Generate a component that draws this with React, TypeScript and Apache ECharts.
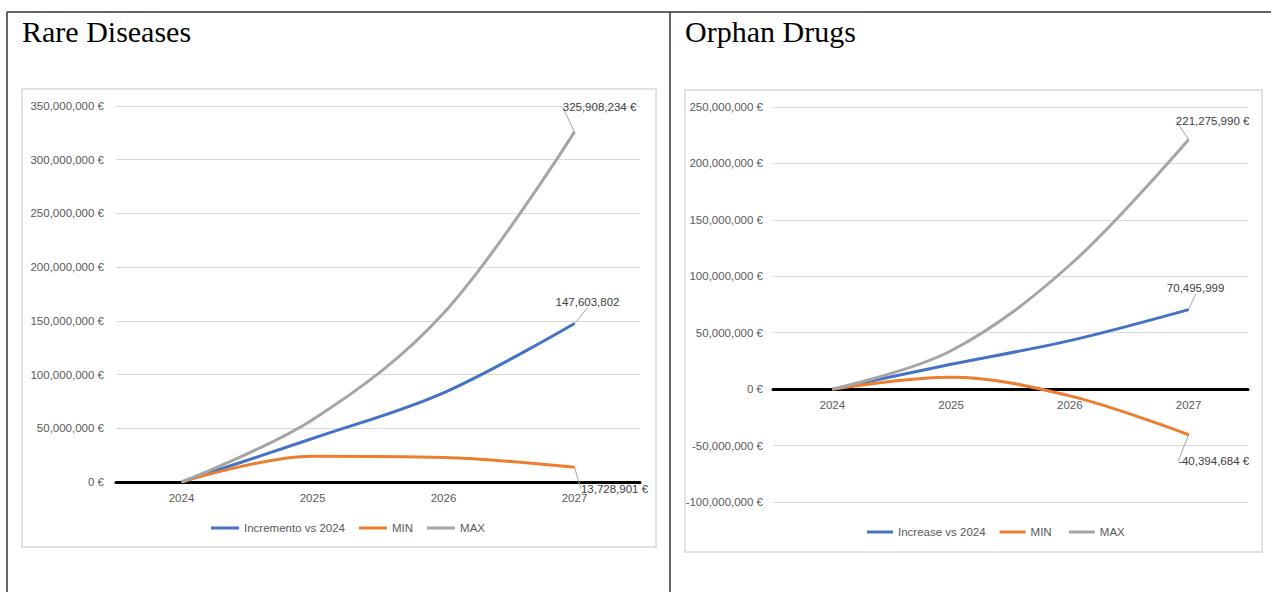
import React, { useEffect, useRef } from "react";
import * as echarts from "echarts";

const years = ["2024", "2025", "2026", "2027"];

// Rare Diseases
const rdIncrement = [0, 40500000, 83000000, 147603802];
const rdMin = [0, 24000000, 22800000, 13728901];
const rdMax = [0, 58000000, 157000000, 325908234];

// Orphan Drugs
const odIncrease = [0, 22000000, 43000000, 70495999];
const odMin = [0, 10500000, -6000000, -40394684];
const odMax = [0, 34000000, 110000000, 221275990];

const BLUE = "#4472C4";
const ORANGE = "#ED7D31";
const GRAY = "#A5A5A5";
const FONT = "Liberation Sans";

const fmtEuro = (v: number) => v.toLocaleString("en-US") + " €";
const fmtNum = (v: number) => v.toLocaleString("en-US");

function lastLabeled(values: number[], withEuro: boolean) {
  return values.map((v, i) =>
    i === values.length - 1
      ? {
          value: v,
          label: {
            show: true,
            position: "top",
            distance: 5,
            color: "#404040",
            fontSize: 11.5,
            fontFamily: FONT,
            formatter: (p: any) => (withEuro ? fmtEuro(p.value) : fmtNum(p.value)),
          },
        }
      : v
  );
}

function lineSeries(
  name: string,
  values: number[],
  color: string,
  gridIndex: number,
  withEuro: boolean,
  dx: number,
  dy: number
) {
  return {
    type: "line",
    name,
    xAxisIndex: gridIndex,
    yAxisIndex: gridIndex,
    data: lastLabeled(values, withEuro),
    smooth: 0.35,
    symbol: "circle",
    symbolSize: 1,
    showSymbol: true,
    itemStyle: { color },
    lineStyle: { color, width: 3 },
    emphasis: { disabled: true },
    labelLayout: { dx, dy },
    labelLine: { show: true, lineStyle: { color: "#A5A5A5", width: 1 } },
    z: 3,
  };
}

export default function App() {
  const ref = useRef<HTMLDivElement>(null);

  useEffect(() => {
    if (!ref.current) return;
    const chart = echarts.init(ref.current, null, { renderer: "svg" });

    const axisLabel = { color: "#595959", fontSize: 11.5, fontFamily: FONT };

    const option: any = {
      animation: false,
      textStyle: { fontFamily: FONT },
      graphic: [
        { type: "line", shape: { x1: 7, y1: 12, x2: 1271, y2: 12 }, style: { stroke: "#333", lineWidth: 1.5 } },
        { type: "line", shape: { x1: 7, y1: 12, x2: 7, y2: 592 }, style: { stroke: "#333", lineWidth: 1.5 } },
        { type: "line", shape: { x1: 670, y1: 12, x2: 670, y2: 592 }, style: { stroke: "#333", lineWidth: 1.5 } },
        {
          type: "rect",
          shape: { x: 22, y: 89, width: 634, height: 458 },
          style: { fill: "#fff", stroke: "#D9D9D9", lineWidth: 1.5 },
          z: -10,
        },
        {
          type: "rect",
          shape: { x: 685, y: 90, width: 577, height: 462 },
          style: { fill: "#fff", stroke: "#D9D9D9", lineWidth: 1.5 },
          z: -10,
        },
        {
          type: "text",
          x: 22,
          y: 16,
          style: { text: "Rare Diseases", font: "30px 'Liberation Serif'", fill: "#000" },
        },
        {
          type: "text",
          x: 685,
          y: 16,
          style: { text: "Orphan Drugs", font: "30px 'Liberation Serif'", fill: "#000" },
        },
      ],
      legend: [
        {
          left: 206,
          top: 517,
          icon: "rect",
          itemWidth: 28,
          itemHeight: 3,
          itemGap: 14,
          textStyle: { color: "#595959", fontSize: 11.5, fontFamily: FONT },
          data: ["Incremento vs 2024", "MIN", "MAX"],
        },
        {
          left: 862,
          top: 521,
          icon: "rect",
          itemWidth: 26,
          itemHeight: 3,
          itemGap: 14,
          textStyle: { color: "#595959", fontSize: 11.5, fontFamily: FONT },
          data: ["Increase vs 2024", "MIN ", "MAX "],
        },
      ],
      grid: [
        { left: 116, right: 631, top: 106, bottom: 110 },
        { left: 773, right: 23, top: 107, bottom: 90 },
      ],
      xAxis: [0, 1].map((g) => ({
        type: "category",
        gridIndex: g,
        data: years,
        boundaryGap: true,
        offset: g === 1 ? -113 : 0,
        axisLine: { onZero: false, lineStyle: { color: "#000", width: 3 } },
        axisTick: { show: false },
        axisLabel: { ...axisLabel, margin: 10 },
        splitLine: { show: false },
      })),
      yAxis: [
        {
          type: "value",
          gridIndex: 0,
          min: 0,
          max: 350000000,
          interval: 50000000,
          axisLine: { show: false },
          axisTick: { show: false },
          axisLabel: { ...axisLabel, margin: 12, formatter: (v: number) => fmtEuro(v) },
          splitLine: { lineStyle: { color: "#D9D9D9", width: 1 } },
        },
        {
          type: "value",
          gridIndex: 1,
          min: -100000000,
          max: 250000000,
          interval: 50000000,
          axisLine: { show: false },
          axisTick: { show: false },
          axisLabel: { ...axisLabel, margin: 10, formatter: (v: number) => fmtEuro(v) },
          splitLine: { lineStyle: { color: "#D9D9D9", width: 1 } },
        },
      ],
      series: [
        lineSeries("Incremento vs 2024", rdIncrement, BLUE, 0, false, 13, -10),
        lineSeries("MIN", rdMin, ORANGE, 0, true, 40, 33),
        lineSeries("MAX", rdMax, GRAY, 0, true, 25, -13),
        lineSeries("Increase vs 2024", odIncrease, BLUE, 1, false, 7, -10),
        lineSeries("MIN ", odMin, ORANGE, 1, true, 25, 38),
        lineSeries("MAX ", odMax, GRAY, 1, true, 24, -7),
      ],
    };

    chart.setOption(option);
    return () => chart.dispose();
  }, []);

  return (
    <div style={{ position: "absolute", left: 0, top: 0, width: 1271, height: 592, background: "#fff" }}>
      <div ref={ref} style={{ width: 1271, height: 592 }} />
    </div>
  );
}
